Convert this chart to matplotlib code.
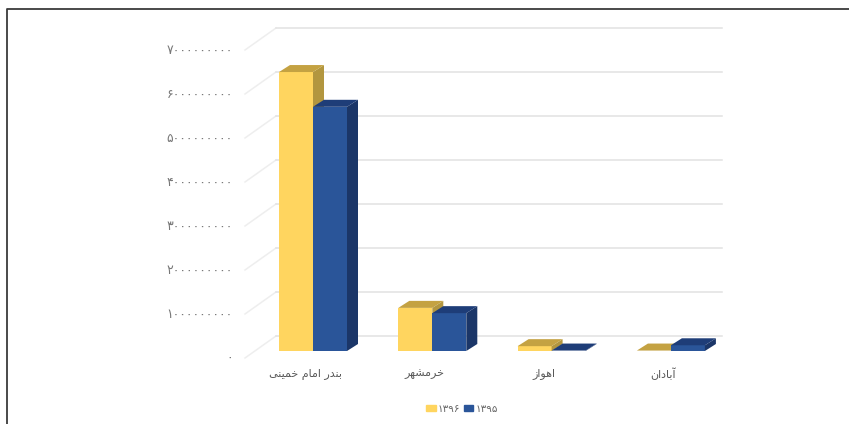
import matplotlib
matplotlib.use("Agg")
from matplotlib import pyplot as plt
from matplotlib.patches import Polygon

# Persian labels: letters are in presentation forms, logical order (matplotlib does no shaping)
cities = [
    "\uFE91\uFEE8\uFEAA\uFEAD \uFE8D\uFEE3\uFE8E\uFEE1 \uFEA7\uFEE4\uFBFF\uFEE8\uFBFD",
    "\uFEA7\uFEAE\uFEE3\uFEB8\uFEEC\uFEAE",
    "\uFE8D\uFEEB\uFEEE\uFE8D\uFEAF",
    "\uFE81\uFE91\uFE8E\uFEA9\uFE8D\uFEE5",
]
values_1396 = [6.34e9, 0.98e9, 0.11e9, 0.01e9]
values_1395 = [5.55e9, 0.86e9, 0.01e9, 0.13e9]
ticks = [0, 1e9, 2e9, 3e9, 4e9, 5e9, 6e9, 7e9]
tick_labels = ["۰", "۱۰۰۰۰۰۰۰۰۰", "۲۰۰۰۰۰۰۰۰۰", "۳۰۰۰۰۰۰۰۰۰", "۴۰۰۰۰۰۰۰۰۰",
               "۵۰۰۰۰۰۰۰۰۰", "۶۰۰۰۰۰۰۰۰۰", "۷۰۰۰۰۰۰۰۰۰"]

W, H = 849, 424
PX_X = 119.3           # pixels per category
PX_Y = 44.0 / 1e9      # pixels per value unit
X0, Y0 = 313, 351      # pixel of category 0 / value 0 on the bar front plane
BAR = 34 / PX_X
DX, DY = 11 / PX_X, 7 / PX_Y   # oblique depth of a bar


def px(x):
    return (x - X0) / PX_X


def py(y):
    return (Y0 - y) / PX_Y


fig = plt.figure(figsize=(W / 100, H / 100), dpi=100)
ax = fig.add_axes([0, 0, 1, 1])
ax.set_xlim(px(0), px(W))
ax.set_ylim(py(H), py(0))
ax.axis("off")

# frame of the page
ax.plot([px(7), px(7), px(W)], [py(H), py(8.5), py(8.5)], color="#3a3a3a", lw=1.3)

# walls
for t in ticks:
    ax.plot([px(245), px(276)], [t - 7 / PX_Y, t + 15 / PX_Y], color="#eeeeee", lw=1.1)
    ax.plot([px(276), px(722)], [t + 15 / PX_Y, t + 15 / PX_Y], color="#e2e2e2", lw=1.1)


def bar3d(x, h, front, side, top):
    left, right = x, x + BAR
    ax.bar(left, h, BAR, align="edge", color=front, zorder=3)
    ax.add_patch(Polygon([(right, 0), (right + DX, DY), (right + DX, h + DY), (right, h)],
                         color=side, lw=0, zorder=3))
    ax.add_patch(Polygon([(left, h), (left + DX, h + DY), (right + DX, h + DY), (right, h)],
                         color=top, lw=0, zorder=3))


for i in range(len(cities)):
    bar3d(i - BAR, values_1396[i], "#FFD55F", "#B2963F", "#C4A242")
    bar3d(i, values_1395[i], "#2A5599", "#1B3668", "#1E3D78")
    ax.text(i - 0.065, py(374), cities[i][::-1], ha="center", va="center",
            fontsize=8, color="#595959", family="DejaVu Sans")

for t, lab in zip(ticks, tick_labels):
    ax.text(px(233), t - 7 / PX_Y, lab, ha="right", va="center",
            fontsize=9, color="#777777", family="DejaVu Sans")

# legend
handles = [plt.Rectangle((0, 0), 1, 1, color="#FFD55F"), plt.Rectangle((0, 0), 1, 1, color="#2A5599")]
ax.legend(handles, ["۱۳۹۶", "۱۳۹۵"], ncol=2, frameon=False, loc="center",
          bbox_to_anchor=(px(462), py(408.5)), bbox_transform=ax.transData,
          fontsize=7.5, labelcolor="#666666", handlelength=0.9, handleheight=0.6,
          handletextpad=0.2, columnspacing=0.35)

fig.savefig("out.png", dpi=100)
